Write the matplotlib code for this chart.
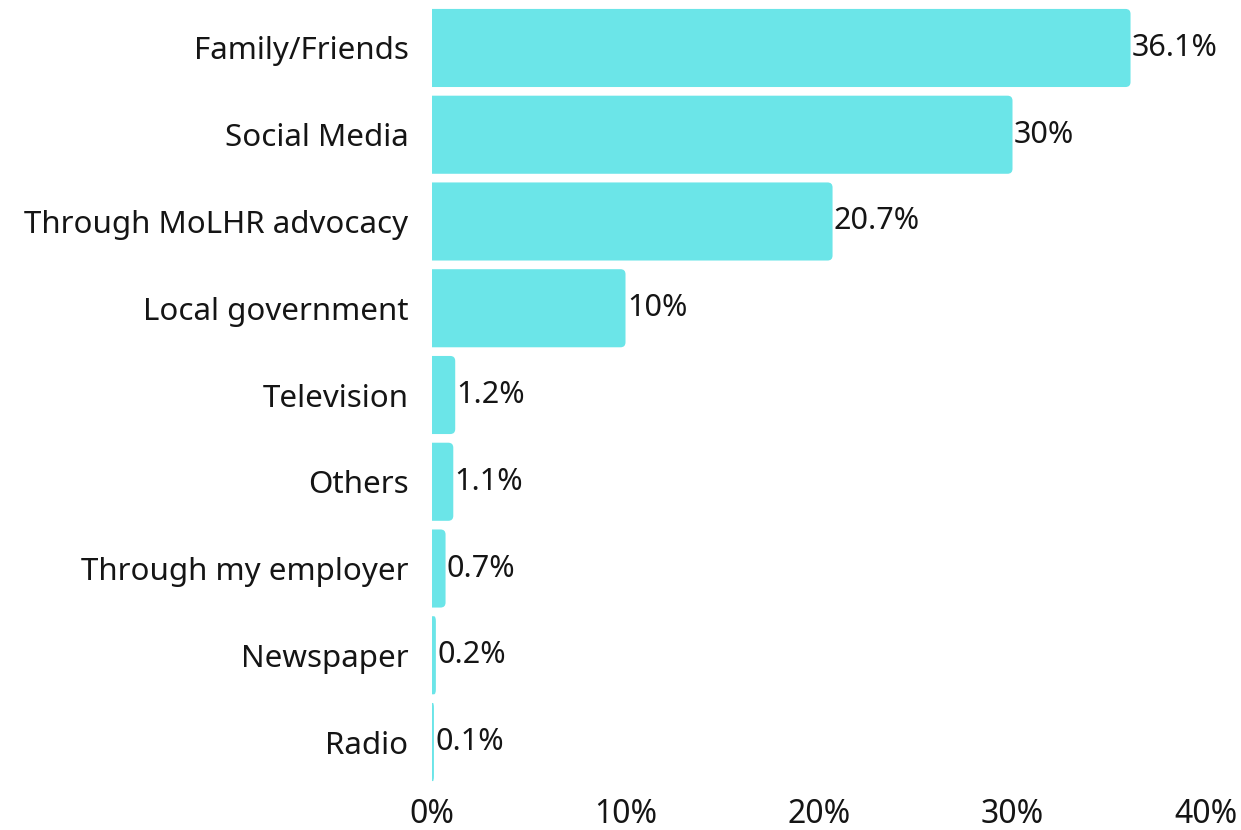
import matplotlib
matplotlib.use("Agg")
import matplotlib.pyplot as plt
from matplotlib.path import Path
from matplotlib.patches import PathPatch

categories = ["Family/Friends", "Social Media", "Through MoLHR advocacy",
              "Local government", "Television", "Others",
              "Through my employer", "Newspaper", "Radio"]
values = [36.1, 30, 20.7, 10, 1.2, 1.1, 0.7, 0.2, 0.1]
value_labels = ["36.1%", "30%", "20.7%", "10%", "1.2%", "1.1%", "0.7%", "0.2%", "0.1%"]
x_ticks = [0, 10, 20, 30, 40]
x_tick_labels = ["0%", "10%", "20%", "30%", "40%"]

BAR_COLOR = "#6BE5E8"
TEXT_COLOR = "#151515"
FONT = ["Noto Sans", "DejaVu Sans"]

plt.rcParams["font.family"] = FONT

W, H, DPI = 1241, 830, 100
fig = plt.figure(figsize=(W / DPI, H / DPI), dpi=DPI)
left, right = 432 / W, 1206 / W
top, bottom = 1 - 4.6 / H, 1 - 785.4 / H
ax = fig.add_axes([left, bottom, right - left, top - bottom])

n = len(categories)
ypos = list(range(n))
bar_h = 0.9

ax.set_xlim(0, 40)
ax.set_ylim(n - 0.5, -0.5)

# pixel -> data scale factors for the corner rounding
px_x = (right - left) * W / 40.0
px_y = (top - bottom) * H / n
radius_px = 5.0


def bar_path(y, v):
    """Bar with a square left end and rounded right corners."""
    rx = min(radius_px / px_x, v / 2)
    ry = min(radius_px / px_y, bar_h / 2)
    y0, y1 = y - bar_h / 2, y + bar_h / 2
    verts = [(0, y0), (v - rx, y0), (v, y0), (v, y0 + ry),
             (v, y1 - ry), (v, y1), (v - rx, y1), (0, y1), (0, y0)]
    codes = [Path.MOVETO, Path.LINETO, Path.CURVE3, Path.CURVE3,
             Path.LINETO, Path.CURVE3, Path.CURVE3, Path.LINETO, Path.CLOSEPOLY]
    return Path(verts, codes)


for y, v in zip(ypos, values):
    ax.add_patch(PathPatch(bar_path(y, v), facecolor=BAR_COLOR, edgecolor="none"))

for y, v, lab in zip(ypos, values, value_labels):
    ax.annotate(lab, xy=(v, y), xytext=(1, 0), textcoords="offset points",
                ha="left", va="center", fontsize=22, color=TEXT_COLOR)

ax.set_yticks(ypos)
ax.set_yticklabels(categories, fontsize=22.5, color=TEXT_COLOR)
ax.set_xticks(x_ticks)
ax.set_xticklabels(x_tick_labels, fontsize=23, color=TEXT_COLOR)
ax.tick_params(axis="y", length=0, pad=17)
ax.tick_params(axis="x", length=0, pad=9)
for s in ax.spines.values():
    s.set_visible(False)

fig.savefig("out.png", dpi=DPI, facecolor="white")
